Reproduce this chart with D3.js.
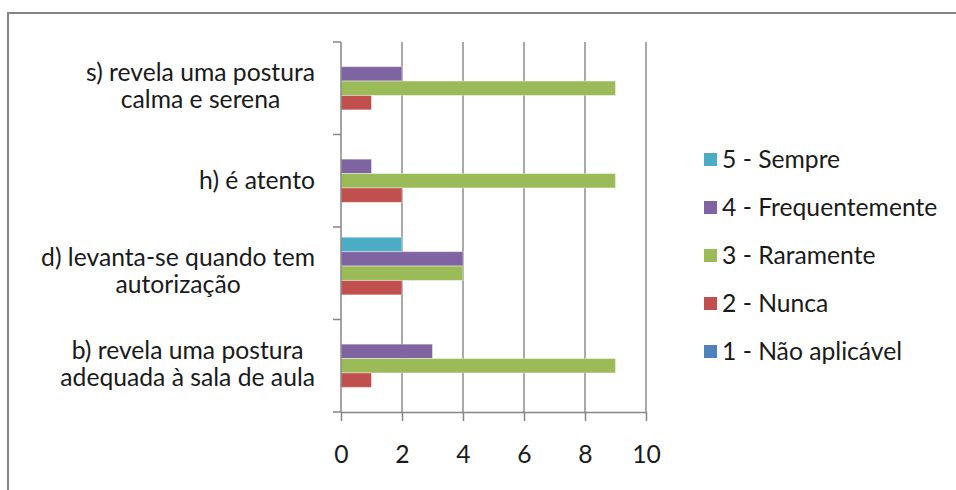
<!DOCTYPE html>
<html>
<head>
<meta charset="utf-8">
<title>Comportamento</title>
<script src="https://d3js.org/d3.v7.min.js"></script>
<style>
  body { margin: 0; background: #fff; }
  svg text { font-family: Lato, "Open Sans", sans-serif; fill: #1a1a1a; }
</style>
</head>
<body>
<div id="chart"></div>
<script>
// categories, top to bottom
var categories = [
  ["s) revela uma postura", "calma e serena"],
  ["h) é atento"],
  ["d) levanta-se quando tem", "autorização"],
  ["b) revela uma postura", "adequada à sala de aula"]
];
// series, legend order (top to bottom)
var seriesNames = ["5 - Sempre", "4 - Frequentemente", "3 - Raramente", "2 - Nunca", "1 - Não aplicável"];
var seriesColors = ["#4bacc6", "#8064a2", "#9bbb59", "#c0504d", "#4f81bd"];
// values per category, same order as seriesNames
var sempre         = [0, 0, 2, 0];
var frequentemente = [2, 1, 4, 3];
var raramente      = [9, 9, 4, 9];
var nunca          = [1, 2, 2, 1];
var naoAplicavel   = [0, 0, 0, 0];
var xTicks = [0, 2, 4, 6, 8, 10];

var seriesValues = [sempre, frequentemente, raramente, nunca, naoAplicavel];

var W = 956, H = 490;
var plot = {left: 341, right: 646, top: 42, bottom: 412};
var fontSize = "24.7px";

var svg = d3.select("#chart").append("svg")
    .attr("width", W).attr("height", H);

// chart frame (only top/left inside the picture)
svg.append("rect")
    .attr("x", 8).attr("y", 13)
    .attr("width", W).attr("height", H)
    .attr("fill", "#fff")
    .attr("stroke", "#868686").attr("stroke-width", 2);

var x = d3.scaleLinear().domain([0, 10]).range([plot.left, plot.right]);
var catIdx = d3.range(categories.length);
var y = d3.scaleBand().domain(catIdx).range([plot.top, plot.bottom]);
var ys = d3.scaleBand().domain(d3.range(seriesNames.length))
    .range([0, y.bandwidth()]).paddingOuter(0.71);

// grid
svg.append("g").selectAll("line")
  .data(xTicks.slice(1))
  .enter().append("line")
    .attr("x1", function(d) { return x(d); })
    .attr("x2", function(d) { return x(d); })
    .attr("y1", plot.top).attr("y2", plot.bottom)
    .attr("stroke", "#8c8c8c").attr("stroke-width", 1.5);

// bars
var data = [];
catIdx.forEach(function(c) {
  seriesNames.forEach(function(s, i) {
    data.push({c: c, s: i, v: seriesValues[i][c]});
  });
});
svg.append("g").selectAll("rect")
  .data(data.filter(function(d) { return d.v > 0; }))
  .enter().append("rect")
    .attr("x", x(0))
    .attr("y", function(d) { return y(d.c) + ys(d.s); })
    .attr("width", function(d) { return x(d.v) - x(0); })
    .attr("height", ys.bandwidth())
    .attr("fill", function(d) { return seriesColors[d.s]; })
    .attr("stroke", "#fff").attr("stroke-opacity", 0.4).attr("stroke-width", 1);

// left axis: line + ticks at category boundaries
var yAxis = svg.append("g").attr("stroke", "#868686").attr("stroke-width", 1.5);
yAxis.append("line")
    .attr("x1", x(0)).attr("x2", x(0))
    .attr("y1", plot.top).attr("y2", plot.bottom);
yAxis.selectAll(".yt")
  .data(catIdx.concat([categories.length]))
  .enter().append("line")
    .attr("class", "yt")
    .attr("x1", x(0) - 8).attr("x2", x(0))
    .attr("y1", function(d) { return d < categories.length ? y(d) : y.range()[1]; })
    .attr("y2", function(d) { return d < categories.length ? y(d) : y.range()[1]; });

// bottom axis
var xAxis = svg.append("g")
    .attr("transform", "translate(0," + plot.bottom + ")")
    .call(d3.axisBottom(x).tickValues(xTicks).tickSize(9).tickSizeOuter(0));
xAxis.selectAll("path, line").attr("stroke", "#868686").attr("stroke-width", 1.5);
xAxis.selectAll("text")
    .attr("y", 51).attr("dy", 0)
    .style("font-family", "Lato, sans-serif")
    .style("font-size", fontSize)
    .attr("fill", "#1a1a1a");

// category labels, multi-line, centred block, right edge near 316
var labelRight = 315;
categories.forEach(function(lines, c) {
  var g = svg.append("g");
  var cy = y(c) + y.bandwidth() / 2;
  var base = lines.length === 1 ? cy + 8 : cy - 7;
  var texts = lines.map(function(t, i) {
    return g.append("text")
      .attr("y", base + i * 27)
      .attr("text-anchor", "middle")
      .style("font-size", fontSize)
      .text(t);
  });
  var maxW = d3.max(texts, function(t) { return t.node().getComputedTextLength(); });
  texts.forEach(function(t) { t.attr("x", labelRight - maxW / 2); });
});

// legend
var legend = svg.append("g").selectAll("g")
  .data(seriesNames)
  .enter().append("g")
    .attr("transform", function(d, i) { return "translate(704," + (168 + i * 48) + ")"; });
legend.append("rect")
    .attr("x", 0).attr("y", -15)
    .attr("width", 13).attr("height", 13)
    .attr("fill", function(d, i) { return seriesColors[i]; });
legend.append("text")
    .attr("x", 18).attr("y", 0)
    .style("font-size", fontSize)
    .text(function(d) { return d; });
</script>
</body>
</html>
